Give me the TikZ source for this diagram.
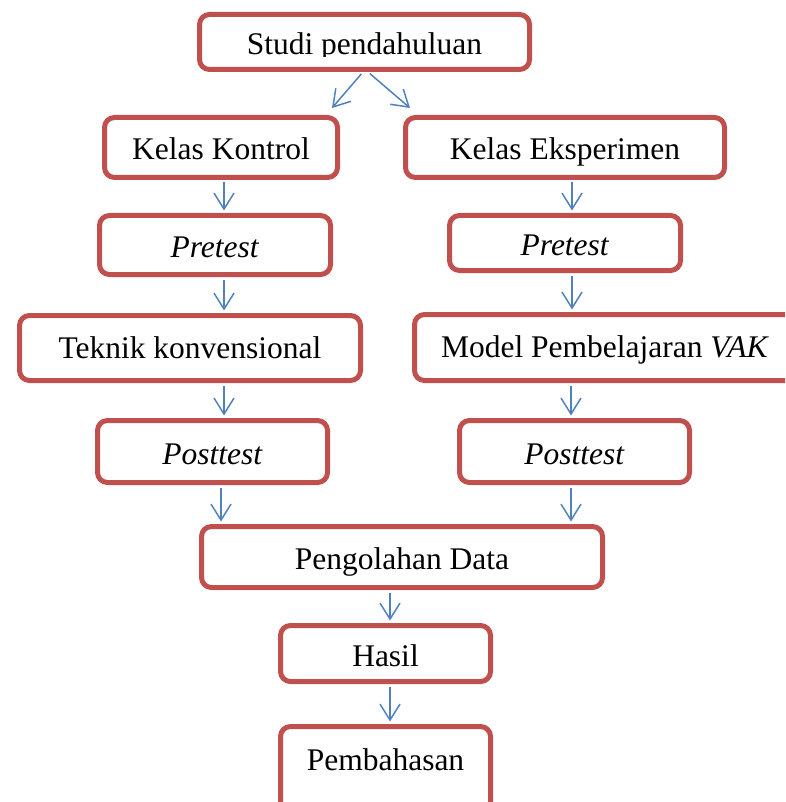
\documentclass[tikz,border=0pt]{standalone}
\usepackage{fontspec}
\setmainfont{Liberation Serif}
\usetikzlibrary{arrows.meta}
\definecolor{boxred}{HTML}{C0504D}
\definecolor{arrblue}{HTML}{4F81BD}
\begin{document}
\begin{tikzpicture}[x=1pt,y=-1pt,
  box/.style={draw=boxred, line width=5pt, rounded corners=10pt, inner sep=0pt,
    font=\fontsize{31.5}{36}\selectfont, text height=25pt, text depth=0pt, align=center},
  lowtext/.style={text depth=5pt},
  lbl/.style={inner sep=0pt, font=\fontsize{31.5}{36}\selectfont},
  arr/.style={draw=arrblue, line width=1.5pt, -{Straight Barb[length=16pt,width=20pt]},
    shorten <=2.5pt, shorten >=2.5pt},
]
\useasboundingbox (0,0) rectangle (785,802);
\clip (0,0) rectangle (785,802);

% boxes
\node[box, minimum width=330pt, minimum height=55pt] (studi) at (364.5,42) {};
\begin{scope}
  \clip (0,0) rectangle (785,57);
  \node[lbl, anchor=base] (studit) at (364.5,55) {Studi pendahuluan};
\end{scope}
\node[box, minimum width=233pt, minimum height=60pt] (kk) at (221,147.5) {Kelas Kontrol};
\node[box, minimum width=319pt, minimum height=60pt] (ke) at (565,147.5) {Kelas Eksperimen};
\node[box, minimum width=231pt, minimum height=59pt] (preL) at (215,245) {\textit{Pretest}};
\node[box, minimum width=231pt, minimum height=55pt] (preR) at (565,243) {\textit{Pretest}};
\node[box, lowtext, minimum width=341pt, minimum height=65pt] (tek) at (190,348) {Teknik konvensional};
\node[box, lowtext, minimum width=381pt, minimum height=66pt] (model) at (605,347.5) {Model Pembelajaran \textit{VAK}};
\node[box, minimum width=230pt, minimum height=62pt] (postL) at (212.5,451.5) {\textit{Posttest}};
\node[box, minimum width=230pt, minimum height=62pt] (postR) at (574.5,451.5) {\textit{Posttest}};
\node[box, minimum width=401pt, minimum height=61pt] (peng) at (402,557) {Pengolahan Data};
\node[box, minimum width=210pt, minimum height=56pt] (hasil) at (385.5,653.5) {Hasil};
\node[box, text height=22pt, text depth=21pt, minimum width=210pt, minimum height=86pt] (pemb) at (385.5,769.5) {Pembahasan};

% columns for connectors
\coordinate (cL) at (224,0);
\coordinate (cL2) at (221,0);
\coordinate (cR) at (572,0);
\coordinate (cR2) at (571,0);
\coordinate (cM) at (390,0);
\coordinate (kkin) at (332,108);
\coordinate (kein) at (410,108);

% connectors
\draw[arr, shorten >=0pt] ([xshift=-1.5pt]studi.south) -- (kkin);
\draw[arr, shorten >=0pt] ([xshift=3.5pt]studi.south) -- (kein);
\draw[arr] (kk.south -| cL) -- (preL.north -| cL);
\draw[arr] (preL.south -| cL) -- (tek.north -| cL);
\draw[arr] (tek.south -| cL) -- (postL.north -| cL);
\draw[arr] (postL.south -| cL2) -- (peng.north -| cL2);
\draw[arr] (ke.south -| cR) -- (preR.north -| cR);
\draw[arr] (preR.south -| cR) -- (model.north -| cR);
\draw[arr] (model.south -| cR2) -- (postR.north -| cR2);
\draw[arr] (postR.south -| cR2) -- (peng.north -| cR2);
\draw[arr] (peng.south -| cM) -- (hasil.north -| cM);
\draw[arr] (hasil.south -| cM) -- (pemb.north -| cM);
\end{tikzpicture}
\end{document}
